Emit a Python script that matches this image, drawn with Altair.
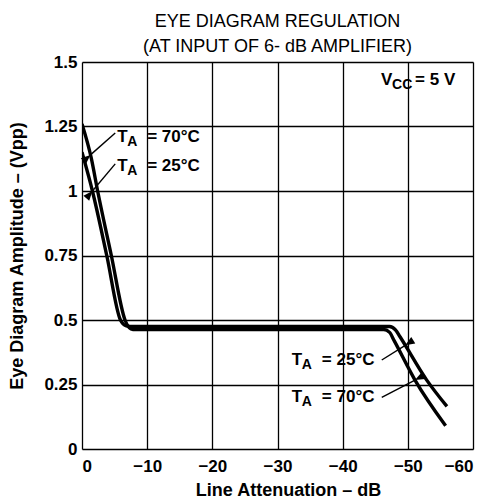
import math
import altair as alt
import pandas as pd

# ---- data ----
db_70 = [0.0, -1.4, -2.4, -4.5, -6.6, -7.0, -7.5, -8.2, -46.3, -47.2, -47.9, -51.1, -55.8]
v_70 = [1.26, 1.13, 1.0, 0.75, 0.5, 0.478, 0.466, 0.463, 0.463, 0.452, 0.42, 0.267, 0.09]
db_25 = [0.0, -1.6, -3.8, -5.9, -6.3, -6.8, -7.4, -47.2, -48.1, -48.8, -52.9, -56.0]
v_25 = [1.15, 1.0, 0.75, 0.5, 0.485, 0.477, 0.475, 0.475, 0.462, 0.435, 0.267, 0.165]

x_ticks = [0, -10, -20, -30, -40, -50, -60]
y_ticks = [0, 0.25, 0.5, 0.75, 1.0, 1.25, 1.5]

title_lines = ["EYE DIAGRAM REGULATION", "(AT INPUT OF 6- dB AMPLIFIER)"]
x_title = "Line Attenuation \u2013 dB"
y_title = "Eye Diagram Amplitude \u2013 (Vpp)"

# annotations: main letter, subscript, rest, anchor (data coords)
ann_main = ["T", "T", "T", "T", "V"]
ann_sub = ["A", "A", "A", "A", "CC"]
ann_rest = ["= 70\u00b0C", "= 25\u00b0C", "= 25\u00b0C", "= 70\u00b0C", "= 5 V"]
ann_x = [-5.4, -5.4, -32.2, -32.2, -45.9]
ann_y = [1.21, 1.095, 0.345, 0.2, 1.43]
ann_sub_dx = [10, 10, 10, 10, 11]
ann_rest_dx = [30, 30, 30, 30, 34]

# arrows: start (near label) -> tip (on curve)
arr_x0 = [-5.1, -5.1, -46.0, -46.0]
arr_y0 = [1.225, 1.105, 0.345, 0.2]
arr_x1 = [-1.3, -1.6, -49.6, -51.1]
arr_y1 = [1.14, 1.0, 0.402, 0.267]

W, H = 391, 387
XD = [0, -60]
YD = [0, 1.5]
FONT = "Liberation Sans"

curves = pd.DataFrame(
    [{"db": d, "v": v, "series": "70", "i": i} for i, (d, v) in enumerate(zip(db_70, v_70))]
    + [{"db": d, "v": v, "series": "25", "i": i} for i, (d, v) in enumerate(zip(db_25, v_25))]
)

xs = alt.Scale(domain=XD, nice=False, zero=False)
ys = alt.Scale(domain=YD, nice=False, zero=False)

x_axis = alt.Axis(
    values=x_ticks, grid=True, gridColor="black", gridWidth=1.3, gridOpacity=1,
    domain=False, ticks=False, labelFont=FONT, labelFontSize=17, labelFontWeight="bold",
    labelColor="black", labelPadding=9, labelFlush=True,
    labelExpr="datum.value == 0 ? '0' : '\u2212' + abs(datum.value)",
    title=x_title, titleFont=FONT, titleFontSize=18, titleFontWeight="bold",
    titleColor="black", titlePadding=7, titleX=206,
)
y_axis = alt.Axis(
    values=y_ticks, grid=True, gridColor="black", gridWidth=1.3, gridOpacity=1,
    domain=False, ticks=False, labelFont=FONT, labelFontSize=17, labelFontWeight="bold",
    labelColor="black", labelPadding=5, format=".2~f", labelFlush=False,
    title=y_title, titleFont=FONT, titleFontSize=18, titleFontWeight="bold",
    titleColor="black", titlePadding=17,
)

lines = alt.Chart(curves).mark_line(
    color="black", strokeWidth=3.4, interpolate="monotone", strokeJoin="round", clip=True
).encode(
    x=alt.X("db:Q", scale=xs, axis=x_axis),
    y=alt.Y("v:Q", scale=ys, axis=y_axis),
    detail="series:N",
    order="i:Q",
)


def px(x):
    return -x * W / 60.0


def py(y):
    return (1.5 - y) * H / 1.5


def shift(x, dpx):
    return x - dpx * 60.0 / W


ann = pd.DataFrame({
    "main": ann_main, "sub": ann_sub, "rest": ann_rest,
    "x": ann_x, "y": ann_y,
    "xs": [shift(a, d) for a, d in zip(ann_x, ann_sub_dx)],
    "xr": [shift(a, d) for a, d in zip(ann_x, ann_rest_dx)],
})

txt = dict(align="left", baseline="middle", font=FONT, fontWeight="bold", color="black")
t_main = alt.Chart(ann).mark_text(fontSize=17, **txt).encode(
    x=alt.X("x:Q", scale=xs), y=alt.Y("y:Q", scale=ys), text="main:N")
t_sub = alt.Chart(ann).mark_text(fontSize=14, dy=5, **txt).encode(
    x=alt.X("xs:Q", scale=xs), y=alt.Y("y:Q", scale=ys), text="sub:N")
t_rest = alt.Chart(ann).mark_text(fontSize=17, **txt).encode(
    x=alt.X("xr:Q", scale=xs), y=alt.Y("y:Q", scale=ys), text="rest:N")

rows = []
heads = []
for k in range(len(arr_x0)):
    rows.append({"k": k, "o": 0, "x": arr_x0[k], "y": arr_y0[k]})
    rows.append({"k": k, "o": 1, "x": arr_x1[k], "y": arr_y1[k]})
    dx = px(arr_x1[k]) - px(arr_x0[k])
    dy = py(arr_y1[k]) - py(arr_y0[k])
    ang = (math.degrees(math.atan2(-dx, dy)) + 360) % 360
    heads.append({"x": arr_x1[k], "y": arr_y1[k], "ang": ang})
arr_df = pd.DataFrame(rows)
head_df = pd.DataFrame(heads)

leaders = alt.Chart(arr_df).mark_line(color="black", strokeWidth=1.4).encode(
    x=alt.X("x:Q", scale=xs), y=alt.Y("y:Q", scale=ys), detail="k:N", order="o:Q"
)
arrowheads = alt.Chart(head_df).mark_point(
    shape="M0,0L-0.8,2L0.8,2Z", filled=True, color="black", opacity=1, size=90
).encode(
    x=alt.X("x:Q", scale=xs), y=alt.Y("y:Q", scale=ys), angle=alt.Angle("ang:Q", scale=None)
)

chart = alt.layer(lines, leaders, arrowheads, t_main, t_sub, t_rest).properties(
    width=W, height=H,
    autosize=alt.AutoSizeParams(type="none"),
    padding={"left": 74, "top": 54, "right": 6, "bottom": 50},
    title=alt.TitleParams(
        text=title_lines, font=FONT, fontSize=18, fontWeight="normal", color="black",
        anchor="middle", offset=-3, lineHeight=25,
    ),
).configure_view(stroke="black", strokeWidth=2.2).configure(background="white")

chart.save("out.html", embed_options={"renderer": "svg", "actions": False})
